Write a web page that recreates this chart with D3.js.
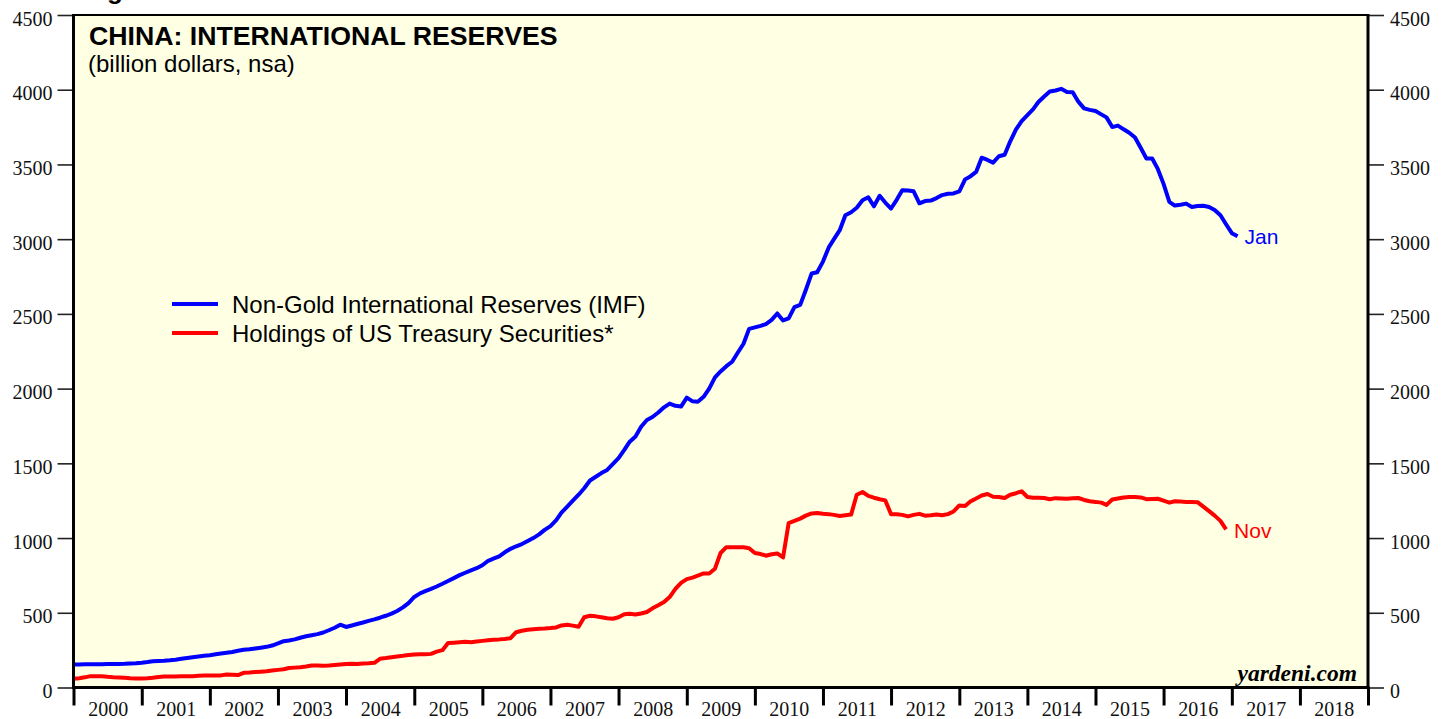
<!DOCTYPE html>
<html>
<head>
<meta charset="utf-8">
<script src="https://cdn.jsdelivr.net/npm/d3@7/dist/d3.min.js"></script>
<style>
  html, body { margin: 0; padding: 0; background: #ffffff; }
  svg { display: block; }
</style>
</head>
<body>
<script>
// ---------------- DATA ----------------
// Monthly, end-of-month values starting Dec 1999 (plotted at month end)
const seriesStart = [1999, 11];            // Dec 1999
const yTicks = [0, 500, 1000, 1500, 2000, 2500, 3000, 3500, 4000, 4500];
const yearLabels = ["2000","2001","2002","2003","2004","2005","2006","2007","2008","2009",
                    "2010","2011","2012","2013","2014","2015","2016","2017","2018"];
const seriesNames = ["Non-Gold International Reserves (IMF)", "Holdings of US Treasury Securities*"];
const endLabels = ["Jan", "Nov"];

// Non-Gold International Reserves (IMF), billion dollars, Dec 1999 .. Jan 2017
const reserves = [
  154,
  154,155,155,156,156,157,157,158,159,161,163,166,
  170,175,177,179,182,186,192,197,202,208,213,216,
  222,228,233,238,246,252,256,261,266,272,281,295,
  310,315,322,333,343,350,357,368,383,400,420,405,
  415,425,435,446,456,467,480,494,512,536,565,606,
  630,645,660,676,694,713,732,752,768,784,798,818,
  848,862,878,905,928,945,960,980,1000,1025,1055,1080,
  1120,1170,1210,1250,1290,1333,1385,1410,1435,1456,1495,1535,
  1590,1645,1680,1745,1790,1810,1840,1875,1900,1885,1880,1940,
  1915,1912,1945,2000,2075,2115,2150,2180,2240,2300,2400,2410,
  2420,2432,2460,2503,2456,2470,2545,2560,2660,2770,2779,2850,
  2945,3000,3060,3160,3180,3210,3260,3280,3220,3290,3245,3205,
  3265,3328,3325,3320,3240,3255,3258,3275,3295,3304,3306,3320,
  3400,3420,3450,3545,3530,3512,3555,3565,3655,3734,3790,3830,
  3870,3918,3955,3988,3995,4006,3985,3983,3920,3875,3865,3858,
  3835,3815,3750,3760,3735,3712,3680,3610,3540,3540,3470,3370,
  3250,3225,3230,3238,3215,3222,3224,3215,3195,3160,3100,3040,
  3020
];

// Holdings of US Treasury Securities, billion dollars, Dec 1999 .. Nov 2016
const treasuries = [
  58,
  62,68,76,76,76,72,69,67,65,62,60,60,
  62,65,70,73,73,74,75,75,76,78,80,80,
  80,81,87,85,83,98,100,103,106,109,113,118,
  122,130,133,135,140,147,147,146,148,151,154,157,
  159,158,160,162,165,192,197,203,208,212,217,221,
  222,223,225,240,250,297,300,303,306,303,308,312,
  316,320,322,325,330,370,380,386,390,393,395,398,
  402,415,420,414,406,470,480,476,470,463,460,470,
  490,493,488,495,505,530,550,572,605,660,700,725,
  735,748,763,763,795,900,939,939,938,939,932,900,
  893,882,892,897,870,1100,1115,1130,1150,1165,1168,1162,
  1160,1155,1148,1152,1157,1290,1308,1282,1270,1260,1252,1160,
  1160,1155,1145,1155,1162,1150,1152,1157,1153,1160,1178,1218,
  1215,1245,1265,1285,1295,1276,1275,1268,1290,1300,1313,1275,
  1270,1270,1268,1260,1267,1265,1263,1266,1268,1255,1246,1242,
  1237,1222,1258,1265,1272,1274,1274,1272,1260,1262,1263,1250,
  1237,1246,1244,1242,1242,1240,1210,1180,1150,1115,1058
];

// ---------------- LAYOUT ----------------
const W = 1450, H = 719;
const L = 73.5, R = 1368, T = 15, B = 687.5;
const bg = "#FFFFE4";
const blue = "#0000FF", red = "#FF0000";

const svg = d3.select("body").append("svg")
  .attr("width", W).attr("height", H)
  .style("font-family", "'Liberation Sans', Arial, Helvetica, sans-serif");

const x = d3.scaleTime()
  .domain([new Date(2000, 0, 1), new Date(2019, 0, 1)])
  .range([L, R]);
const y = d3.scaleLinear().domain([0, 4500]).range([B, T]);

// month-end date for index i (value for month m is plotted at start of following month)
const dateAt = i => d3.timeMonth.offset(new Date(seriesStart[0], seriesStart[1] + 1, 1), i);

// background
svg.append("rect").attr("x", L).attr("y", T).attr("width", R - L).attr("height", B - T)
  .attr("fill", bg);

// partially cut-off figure heading at the very top (cut off in the original too)
svg.append("text").attr("x", 84).attr("y", -1)
  .attr("font-size", 26).attr("font-weight", "bold").attr("fill", "#000")
  .text("Figure 1.");

// clip
svg.append("defs").append("clipPath").attr("id", "plotclip")
  .append("rect").attr("x", L).attr("y", T).attr("width", R - L).attr("height", B - T);

// lines
const line = d3.line()
  .x((d, i) => x(dateAt(i)))
  .y(d => y(d))
  .curve(d3.curveLinear);

const g = svg.append("g").attr("clip-path", "url(#plotclip)");
g.append("path").datum(treasuries).attr("d", line)
  .attr("fill", "none").attr("stroke", red).attr("stroke-width", 4)
  .attr("stroke-linejoin", "round").attr("stroke-linecap", "butt");
g.append("path").datum(reserves).attr("d", line)
  .attr("fill", "none").attr("stroke", blue).attr("stroke-width", 4)
  .attr("stroke-linejoin", "round").attr("stroke-linecap", "butt");

// Y axes
const serif = "'Liberation Serif', 'Times New Roman', Times, serif";
const yl = svg.append("g").attr("transform", `translate(${L},0)`)
  .call(d3.axisLeft(y).tickValues(yTicks).tickSize(16).tickPadding(5).tickFormat(d3.format("d")));
const yr = svg.append("g").attr("transform", `translate(${R},0)`)
  .call(d3.axisRight(y).tickValues(yTicks).tickSize(16).tickPadding(6).tickFormat(d3.format("d")));
[yl, yr].forEach(a => {
  a.select(".domain").remove();
  a.selectAll(".tick line").attr("stroke", "#222").attr("stroke-width", 1.6);
  a.selectAll(".tick text").attr("font-family", serif).attr("font-size", 20)
    .attr("fill", "#111").attr("dy", "0.5em");
});

// X axis: year boundary ticks
const yearDates = d3.range(2000, 2020).map(yy => new Date(yy, 0, 1));
const xt = svg.append("g").attr("transform", `translate(0,${B})`)
  .call(d3.axisBottom(x).tickValues(yearDates).tickSize(18).tickFormat(""));
xt.select(".domain").remove();
xt.selectAll(".tick line").attr("stroke", "#000").attr("stroke-width", 3);

// X axis labels centered in each year
const midDates = yearLabels.map(s => new Date(+s, 6, 2));
const xl = svg.append("g").attr("transform", `translate(0,${B})`)
  .call(d3.axisBottom(x).tickValues(midDates).tickSize(0).tickPadding(14)
    .tickFormat((d, i) => yearLabels[i]));
xl.select(".domain").remove();
xl.selectAll(".tick text").attr("font-family", serif).attr("font-size", 20).attr("fill", "#111");

// frame
const frame = svg.append("g").attr("stroke", "#000").attr("fill", "none");
frame.append("line").attr("x1", L - 1).attr("x2", R + 1).attr("y1", T).attr("y2", T).attr("stroke-width", 2);
frame.append("line").attr("x1", L).attr("x2", L).attr("y1", T - 1).attr("y2", B + 1.5).attr("stroke-width", 3);
frame.append("line").attr("x1", R).attr("x2", R).attr("y1", T - 1).attr("y2", B + 1.5).attr("stroke-width", 3);
frame.append("line").attr("x1", L - 1.5).attr("x2", R + 1.5).attr("y1", B).attr("y2", B).attr("stroke-width", 3);

// title
svg.append("text").attr("x", 89).attr("y", 45)
  .attr("font-size", 26.7).attr("font-weight", "bold").attr("fill", "#000")
  .text("CHINA: INTERNATIONAL RESERVES");
svg.append("text").attr("x", 88).attr("y", 72)
  .attr("font-size", 24).attr("fill", "#000")
  .text("(billion dollars, nsa)");

// legend
const legend = svg.append("g");
[[blue, 304, 312.5], [red, 333, 341.5]].forEach((c, i) => {
  legend.append("line").attr("x1", 172).attr("x2", 218).attr("y1", c[1]).attr("y2", c[1])
    .attr("stroke", c[0]).attr("stroke-width", 4);
  legend.append("text").attr("x", 232).attr("y", c[2])
    .attr("font-size", 24).attr("fill", "#000").text(seriesNames[i]);
});

// end labels
const lastB = reserves.length - 1, lastR = treasuries.length - 1;
svg.append("text").attr("x", x(dateAt(lastB)) + 7).attr("y", y(reserves[lastB]) + 8)
  .attr("font-size", 21).attr("fill", blue).text(endLabels[0]);
svg.append("text").attr("x", x(dateAt(lastR)) + 8).attr("y", y(treasuries[lastR]) + 9)
  .attr("font-size", 21).attr("fill", red).text(endLabels[1]);

// source
svg.append("text").attr("x", 1357).attr("y", 681).attr("text-anchor", "end")
  .attr("font-family", serif).attr("font-style", "italic").attr("font-weight", "bold")
  .attr("font-size", 23.5).attr("fill", "#000")
  .text("yardeni.com");
</script>
</body>
</html>
